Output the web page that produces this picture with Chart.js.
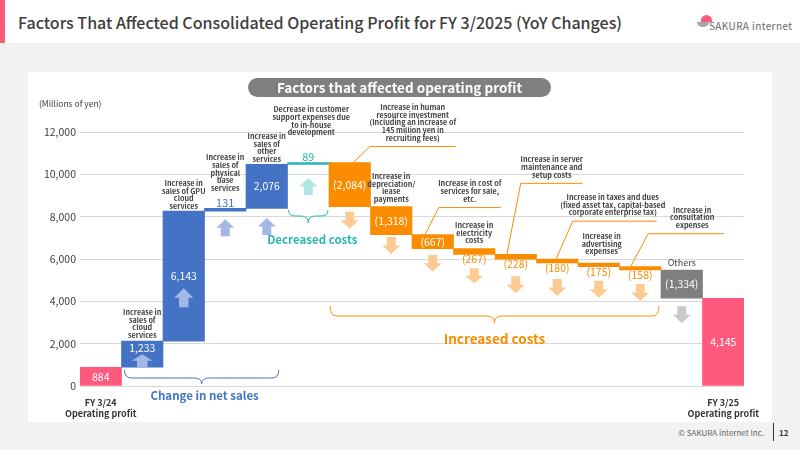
<!DOCTYPE html>
<html><head><meta charset="utf-8">
<script src="https://cdn.jsdelivr.net/npm/chart.js@4.4.1/dist/chart.umd.min.js"></script>
<style>
html,body{margin:0;padding:0;width:800px;height:450px;overflow:hidden;background:#f2f2f2;font-family:"Noto Sans CJK JP","Noto Sans",sans-serif;}
#header{position:absolute;left:0;top:0;width:800px;height:43px;background:#fff;}
#accent{position:absolute;left:0;top:0;width:5px;height:43px;background:#ff5a7a;}
#title{position:absolute;left:18px;top:11px;font-size:16px;font-weight:500;color:#3d3d3d;white-space:nowrap;line-height:22px;}
#logoPink{position:absolute;left:701px;top:15px;width:11px;height:7px;border-radius:6px 6px 0 0;background:#ff5a7a;}
#logoBowl{position:absolute;left:697px;top:22px;width:12px;height:5px;border-radius:0 0 6px 6px;background:#a6a6a6;}
#logoText{position:absolute;left:709px;top:19px;font-size:10px;letter-spacing:0.4px;color:#666;line-height:14px;white-space:nowrap;}
#panel{position:absolute;left:28px;top:72px;width:744px;height:350px;background:#fff;}
#pill{position:absolute;left:248px;top:78px;width:303px;height:19px;border-radius:10px;background:#7f7f7f;color:#fff;font-weight:700;font-size:13.5px;text-align:center;line-height:19px;white-space:nowrap;}
#copy{position:absolute;right:36px;top:427px;font-size:8px;color:#666;line-height:12px;white-space:nowrap;}
#vline{position:absolute;left:773px;top:423px;width:1px;height:18px;background:#333;}
#page{position:absolute;left:779px;top:427px;font-size:8px;color:#333;line-height:12px;font-weight:700;}
#wrap{position:absolute;left:0;top:0;width:800px;height:450px;}
</style></head>
<body>
<div id="header"></div><div id="accent"></div>
<div id="title">Factors That Affected Consolidated Operating Profit for FY 3/2025 (YoY Changes)</div>
<div id="logoPink"></div><div id="logoBowl"></div><div id="logoText">SAKURA internet</div>
<div id="panel"></div>
<div id="copy">© SAKURA internet Inc.</div><div id="vline"></div><div id="page">12</div>
<div id="wrap"><canvas id="c"></canvas></div>
<div id="pill">Factors that affected operating profit</div>
<script>
// ---------------- data ----------------
const categories = [
  'FY 3/24\nOperating profit',
  'Increase in sales of cloud services',
  'Increase in sales of GPU cloud services',
  'Increase in sales of physical base services',
  'Increase in sales of other services',
  'Decrease in customer support expenses due to in-house development',
  'Increase in human resource investment',
  'Increase in depreciation/lease payments',
  'Increase in cost of services for sale, etc.',
  'Increase in electricity costs',
  'Increase in server maintenance and setup costs',
  'Increase in taxes and dues',
  'Increase in advertising expenses',
  'Increase in consultation expenses',
  'Others',
  'FY 3/25\nOperating profit'
];
const changes = [884, 1233, 6143, 131, 2076, 89, -2084, -1318, -667, -267, -228, -180, -175, -158, -1334, 4145];
const kinds = ['total','sales','sales','sales','sales','costDown','costUp','costUp','costUp','costUp','costUp','costUp','costUp','costUp','other','total'];
const descriptions = [
  null,
  ['Increase in','sales of','cloud','services'],
  ['Increase in','sales of GPU','cloud','services'],
  ['Increase in','sales of','physical','base','services'],
  ['Increase in','sales of','other','services'],
  ['Decrease in customer','support expenses due','to in-house','development'],
  ['Increase in human','resource investment','(Including an increase of','145 million yen in','recruiting fees)'],
  ['Increase in','depreciation/','lease','payments'],
  ['Increase in cost of','services for sale,','etc.'],
  ['Increase in','electricity','costs'],
  ['Increase in server','maintenance and','setup costs'],
  ['Increase in taxes and dues','(fixed asset tax, capital-based','corporate enterprise tax)'],
  ['Increase in','advertising','expenses'],
  ['Increase in','consultation','expenses'],
  ['Others'],
  null
];
const yTicks = [0, 2000, 4000, 6000, 8000, 10000, 12000];
const unitLabel = '(Millions of yen)';
const groupLabels = ['Change in net sales', 'Decreased costs', 'Increased costs'];

// floating ranges built from the changes
let running = 0;
const ranges = changes.map((v, i) => {
  if (kinds[i] === 'total') { running = v; return [0, v]; }
  const s = running; running += v; return [s, running];
});

// ---------------- styles ----------------
const barColors = {total:'#ff5a7d', sales:'#4472c4', costDown:'#26b8b0', costUp:'#fb8c00', other:'#7f7f7f'};
const arrowColors = {sales:'#a4b8e8', costDown:'#aee6e2', costUp:'#fdca94', other:'#c9c9c9'};
const FONT = '"Noto Sans CJK JP","Noto Sans",sans-serif';
const labelPlace = ['c','t','c','a','c','a','c','c','c','b','b','b','b','b','c','c'];
const descLayout = {1:{gap:6},2:{gap:5},3:{gap:20},4:{gap:5},5:{gap:30,dx:3},7:{gap:7.5},9:{gap:8},12:{gap:11.5,dx:3},14:{gap:7,others:true}};
const leaders = {6:{sx:3,dx:17,rise:16,len:86,tdx:0},8:{sx:-8,dx:14,rise:27,len:62,tdx:0},10:{sx:-9,dx:14,rise:71,len:62,tdx:0},11:{sx:-1.5,dx:17,rise:38,len:84,tdx:-2},13:{sx:-10,dx:18,rise:33,len:76,tdx:6}};
const arrowLayout = {1:{inside:true,h:13,w:21},2:{fromCenter:12,h:19,w:19},3:{gap:8},4:{gap:9.5},5:{gap:13.5},6:{gap:5},7:{gap:2.5},8:{gap:6},9:{gap:14,h:15},10:{gap:17},11:{gap:16},12:{gap:14},13:{gap:14},14:{gap:8}};

function fmt(v){ const s = Math.abs(v).toLocaleString('en-US'); return v < 0 ? '(' + s + ')' : s; }

function drawArrow(ctx, cx, top, w, h, up, color){
  const hh = h*0.5, sw = w*0.5;
  ctx.beginPath();
  if (up) {
    ctx.moveTo(cx, top); ctx.lineTo(cx+w/2, top+hh); ctx.lineTo(cx+sw/2, top+hh); ctx.lineTo(cx+sw/2, top+h);
    ctx.lineTo(cx-sw/2, top+h); ctx.lineTo(cx-sw/2, top+hh); ctx.lineTo(cx-w/2, top+hh);
  } else {
    const b = top+h;
    ctx.moveTo(cx, b); ctx.lineTo(cx+w/2, b-hh); ctx.lineTo(cx+sw/2, b-hh); ctx.lineTo(cx+sw/2, top);
    ctx.lineTo(cx-sw/2, top); ctx.lineTo(cx-sw/2, b-hh); ctx.lineTo(cx-w/2, b-hh);
  }
  ctx.closePath(); ctx.fillStyle = color; ctx.fill();
}
function drawBrace(ctx, x1, x2, yTop, yLine, yTip, color){
  const xm = (x1+x2)/2, r = 7;
  ctx.beginPath();
  ctx.moveTo(x1, yTop);
  ctx.quadraticCurveTo(x1, yLine, x1+r, yLine);
  ctx.lineTo(xm-r, yLine);
  ctx.quadraticCurveTo(xm, yLine, xm, yTip);
  ctx.quadraticCurveTo(xm, yLine, xm+r, yLine);
  ctx.lineTo(x2-r, yLine);
  ctx.quadraticCurveTo(x2, yLine, x2, yTop);
  ctx.strokeStyle = color; ctx.lineWidth = 1; ctx.stroke();
}
function text(ctx, s, x, y, font, color, align){
  ctx.font = font; ctx.fillStyle = color; ctx.textAlign = align || 'center'; ctx.textBaseline = 'middle';
  ctx.fillText(s, x, y);
}

const annotate = {
  id: 'annotate',
  afterDatasetsDraw(chart){
    const ctx = chart.ctx, xs = chart.scales.x, ys = chart.scales.y, area = chart.chartArea;
    const meta = chart.getDatasetMeta(0);
    ctx.save();
    const geo = ranges.map((r, i) => {
      const el = meta.data[i];
      const top = ys.getPixelForValue(Math.max(r[0], r[1]));
      const bot = ys.getPixelForValue(Math.min(r[0], r[1]));
      return {cx: xs.getPixelForValue(i), w: el.width, top, bot};
    });
    // arrows
    geo.forEach((g, i) => {
      const a = arrowLayout[i]; if (!a) return;
      const k = kinds[i]; const up = changes[i] > 0;
      const w = a.w || 18, h = a.h || 17;
      let top;
      if (a.inside) top = g.bot - h;
      else if (a.fromCenter) top = (g.top+g.bot)/2 + a.fromCenter;
      else top = g.bot + a.gap;
      drawArrow(ctx, g.cx, top, w, h, up, arrowColors[k]);
    });
    // value labels
    const vfont = '400 10.5px ' + FONT;
    geo.forEach((g, i) => {
      const p = labelPlace[i], s = fmt(changes[i]);
      if (p === 'c') text(ctx, s, g.cx, (g.top+g.bot)/2, vfont, '#ffffff');
      else if (p === 't') text(ctx, s, g.cx, g.top+7, vfont, '#ffffff');
      else if (p === 'a') text(ctx, s, g.cx, g.top-5.5, '400 11px ' + FONT, barColors[kinds[i]]);
      else if (p === 'b') text(ctx, s, g.cx, g.bot+5, vfont, barColors[kinds[i]]);
    });
    // descriptions
    const dfont = '700 7.2px ' + FONT, lh = 7.7;
    geo.forEach((g, i) => {
      const lines = descriptions[i]; if (!lines) return;
      const L = leaders[i], D = descLayout[i];
      let cx, lastY;
      if (L) {
        const sx = g.cx + L.sx, sy = g.top + 0.5;
        const ex = sx + L.dx, ey = g.top - L.rise;
        ctx.beginPath(); ctx.moveTo(sx, sy); ctx.lineTo(ex, ey); ctx.lineTo(ex + L.len, ey);
        ctx.strokeStyle = '#fb8c00'; ctx.lineWidth = 1; ctx.stroke();
        cx = ex + L.len/2 + L.tdx; lastY = ey - 8.5;
      } else if (D) {
        cx = g.cx + (D.dx || 0); lastY = g.top - D.gap;
      } else return;
      if (D && D.others) { text(ctx, lines[0], cx, lastY, '400 9px ' + FONT, '#404040'); return; }
      lines.forEach((ln, j) => text(ctx, ln, cx, lastY - (lines.length-1-j)*lh, dfont, '#404040'));
    });
    // braces and group labels
    const b = area.bottom;
    const x1L = geo[1].cx - geo[1].w/2 + 3, x1R = geo[4].cx + 12;
    drawBrace(ctx, x1L, x1R, b-16, b-8, b-2, '#4472c4');
    text(ctx, groupLabels[0], (x1L+x1R)/2 + 3, b+10, '700 11.5px ' + FONT, '#4472c4');
    const x2L = geo[5].cx - geo[5].w/2 + 1, x2R = geo[5].cx + geo[5].w/2 - 1;
    drawBrace(ctx, x2L, x2R, b-176, b-170, b-163, '#26b8b0');
    text(ctx, groupLabels[1], (x2L+x2R)/2 + 4, b-146, '700 11.5px ' + FONT, '#26b8b0');
    const x3L = geo[6].cx - geo[6].w/2 + 1, x3R = geo[13].cx + geo[13].w/2 - 2;
    drawBrace(ctx, x3L, x3R, b-80, b-70, b-63, '#fb8c00');
    text(ctx, groupLabels[2], (x3L+x3R)/2, b-47, '700 13.5px ' + FONT, '#fb8c00');
    // unit label
    text(ctx, unitLabel, 39, 104, '400 8.5px ' + FONT, '#404040', 'left');
    ctx.restore();
  }
};

new Chart(document.getElementById('c'), {
  type: 'bar',
  data: {
    labels: categories,
    datasets: [{
      data: ranges,
      backgroundColor: kinds.map(k => barColors[k]),
      borderWidth: 0,
      barPercentage: 1,
      categoryPercentage: 1
    }]
  },
  options: {
    responsive: true, maintainAspectRatio: false, animation: false,
    layout: {padding: {left: 30, right: 56, top: 132, bottom: 0}},
    plugins: {legend: {display: false}, tooltip: {enabled: false}, title: {display: false}},
    scales: {
      x: {
        grid: {display: false}, border: {display: false},
        ticks: {
          autoSkip: false, maxRotation: 0, minRotation: 0, padding: 3,
          font: {family: FONT, size: 9, weight: '700', lineHeight: 1.2}, color: '#333333',
          callback: (v, i) => (i === 0 || i === categories.length - 1) ? categories[i].split('\n') : ''
        },
        afterFit: s => { s.height = 64; }
      },
      y: {
        min: yTicks[0], max: yTicks[yTicks.length-1],
        afterBuildTicks: s => { s.ticks = yTicks.map(v => ({value: v})); },
        grid: {color: '#d9d9d9', drawTicks: false, lineWidth: 1}, border: {display: false},
        ticks: {padding: 4, font: {family: FONT, size: 10.5}, color: '#404040',
          callback: v => Number(v).toLocaleString('en-US')},
        afterFit: s => { s.width = 50; }
      }
    }
  },
  plugins: [annotate]
});
</script>
</body></html>
